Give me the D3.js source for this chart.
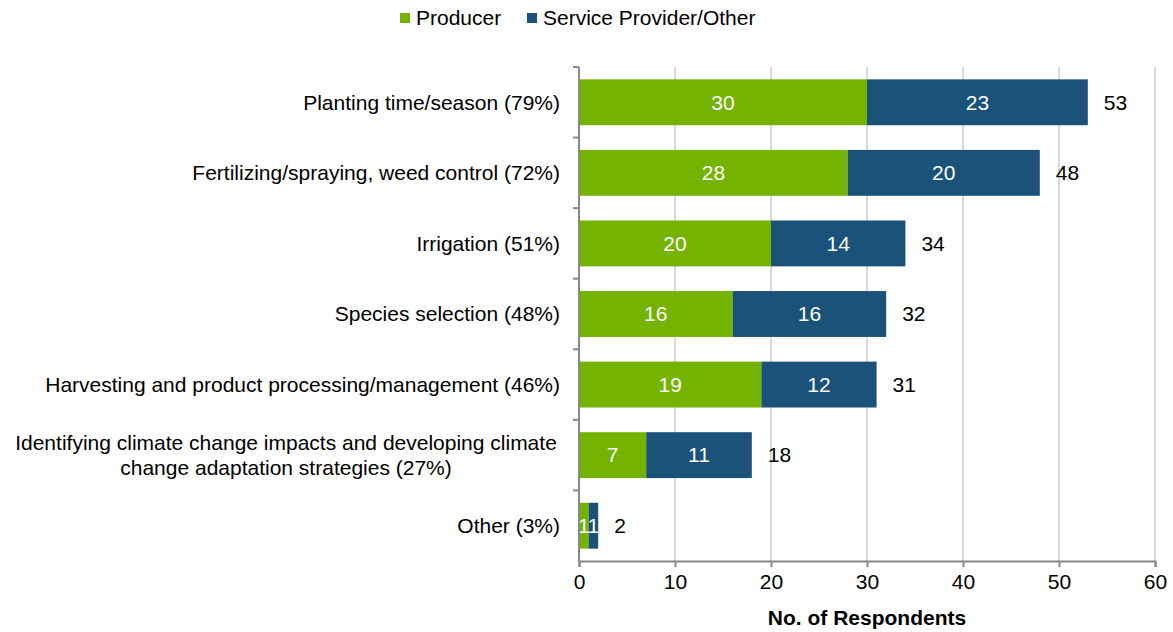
<!DOCTYPE html>
<html>
<head>
<meta charset="utf-8">
<script src="https://cdn.jsdelivr.net/npm/d3@7"></script>
<style>
  body { margin: 0; background: #fff; }
  text { font-family: "Liberation Sans", Arial, sans-serif; }
</style>
</head>
<body>
<div id="chart"></div>
<script>
var categories = [
  ["Planting time/season (79%)"],
  ["Fertilizing/spraying, weed control (72%)"],
  ["Irrigation (51%)"],
  ["Species selection (48%)"],
  ["Harvesting and product processing/management (46%)"],
  ["Identifying climate change impacts and developing climate", "change adaptation strategies (27%)"],
  ["Other (3%)"]
];
var producer = [30, 28, 20, 16, 19, 7, 1];
var provider = [23, 20, 14, 16, 12, 11, 1];
var seriesNames = ["Producer", "Service Provider/Other"];
var xTicks = [0, 10, 20, 30, 40, 50, 60];

var svgWidth = 1173;
var svgHeight = 632;
var margin = { top: 67, right: 18, bottom: 71, left: 579 };
var width = svgWidth - margin.left - margin.right;
var height = svgHeight - margin.top - margin.bottom;
var fs = 21;

var colors = ["#74b300", "#1a527a"];

var svg = d3.select("#chart")
  .append("svg")
  .attr("width", svgWidth)
  .attr("height", svgHeight);

var chart = svg.append("g")
  .attr("transform", "translate(" + margin.left + "," + margin.top + ")");

var xScale = d3.scaleLinear().domain([0, 60]).range([0, width]);
var idx = d3.range(categories.length);
var yScale = d3.scaleBand().domain(idx).range([0, height]).paddingInner(0.35).paddingOuter(0.175);

// gridlines
chart.selectAll(".grid")
  .data(xTicks.slice(1))
  .enter().append("line")
  .attr("x1", function(d) { return xScale(d); })
  .attr("x2", function(d) { return xScale(d); })
  .attr("y1", 0)
  .attr("y2", height)
  .attr("stroke", "#d9d9d9")
  .attr("stroke-width", 2);

// stacked bars
idx.forEach(function(i) {
  var y = yScale(i);
  var bh = yScale.bandwidth();
  chart.append("rect")
    .attr("x", xScale(0))
    .attr("y", y)
    .attr("width", xScale(producer[i]) - xScale(0))
    .attr("height", bh)
    .attr("fill", colors[0]);
  chart.append("rect")
    .attr("x", xScale(producer[i]))
    .attr("y", y)
    .attr("width", xScale(producer[i] + provider[i]) - xScale(producer[i]))
    .attr("height", bh)
    .attr("fill", colors[1]);

  chart.append("text")
    .attr("x", xScale(producer[i] / 2))
    .attr("y", y + bh / 2)
    .attr("dy", "0.35em")
    .attr("text-anchor", "middle")
    .attr("fill", "#fff")
    .attr("font-size", fs)
    .text(producer[i]);
  chart.append("text")
    .attr("x", xScale(producer[i] + provider[i] / 2))
    .attr("y", y + bh / 2)
    .attr("dy", "0.35em")
    .attr("text-anchor", "middle")
    .attr("fill", "#fff")
    .attr("font-size", fs)
    .text(provider[i]);
  // total
  chart.append("text")
    .attr("x", xScale(producer[i] + provider[i]) + 16)
    .attr("y", y + bh / 2)
    .attr("dy", "0.35em")
    .attr("fill", "#000")
    .attr("font-size", fs)
    .text(producer[i] + provider[i]);
});

// x axis
var xAxis = chart.append("g")
  .attr("transform", "translate(0," + height + ")")
  .call(d3.axisBottom(xScale).tickValues(xTicks).tickSize(6).tickPadding(7));
xAxis.select(".domain").attr("stroke", "#888").attr("stroke-width", 2);
xAxis.selectAll(".tick line").attr("stroke", "#888").attr("stroke-width", 2);
xAxis.selectAll(".tick text")
  .attr("font-size", fs)
  .attr("fill", "#000")
  .style("font-family", "Liberation Sans, Arial, sans-serif");

// y axis line with ticks at band boundaries
chart.append("line")
  .attr("x1", 0).attr("x2", 0)
  .attr("y1", 0).attr("y2", height)
  .attr("stroke", "#888").attr("stroke-width", 2);
var step = yScale.step();
chart.selectAll(".ytick")
  .data(d3.range(categories.length))
  .enter().append("line")
  .attr("x1", -6).attr("x2", 0)
  .attr("y1", function(d) { return yScale(d) - step * 0.175; })
  .attr("y2", function(d) { return yScale(d) - step * 0.175; })
  .attr("stroke", "#888").attr("stroke-width", 2);

// category labels
idx.forEach(function(i) {
  var lines = categories[i];
  var t = chart.append("text")
    .attr("x", -19)
    .attr("y", yScale(i) + yScale.bandwidth() / 2)
    .attr("text-anchor", lines.length > 1 ? "middle" : "end")
    .attr("font-size", fs)
    .attr("fill", "#000");
  if (lines.length > 1) {
    lines.forEach(function(l, k) {
      t.append("tspan")
        .attr("x", -293)
        .attr("dy", k === 0 ? "-0.25em" : "1.2em")
        .text(l);
    });
  } else {
    t.attr("dy", "0.35em").text(lines[0]);
  }
});

// x axis title
chart.append("text")
  .attr("x", width / 2)
  .attr("y", height + 64)
  .attr("text-anchor", "middle")
  .attr("font-size", fs)
  .attr("font-weight", "bold")
  .attr("fill", "#000")
  .text("No. of Respondents");

// legend
var legend = svg.append("g").attr("transform", "translate(400,18)");
var legendX = [0, 127];
seriesNames.forEach(function(name, i) {
  legend.append("rect")
    .attr("x", legendX[i])
    .attr("y", -5)
    .attr("width", 10)
    .attr("height", 10)
    .attr("fill", colors[i]);
  legend.append("text")
    .attr("x", legendX[i] + 16)
    .attr("y", 0)
    .attr("dy", "0.35em")
    .attr("font-size", fs)
    .attr("fill", "#000")
    .text(name);
});
</script>
</body>
</html>
